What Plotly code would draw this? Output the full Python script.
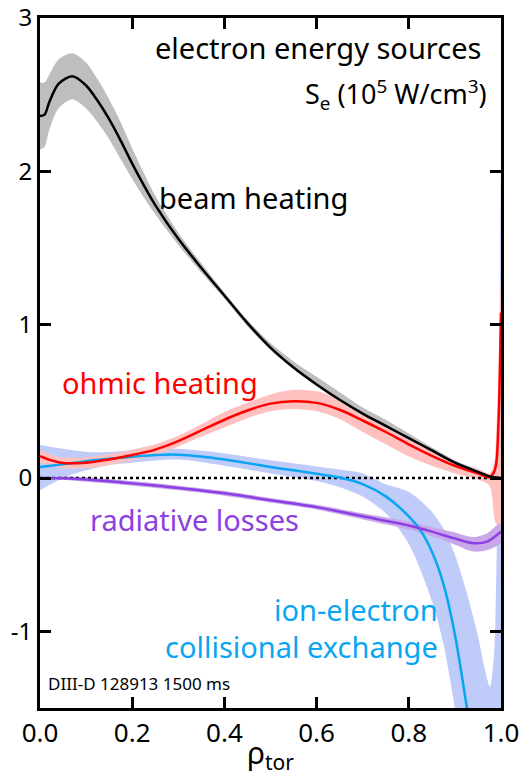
import plotly.graph_objects as go

FONT = "Noto Sans"

# ---------------- data ----------------
# beam heating (black)
beam_x = [0, 0.01, 0.02, 0.04, 0.07, 0.10, 0.125, 0.15, 0.175, 0.20, 0.225, 0.25, 0.30, 0.35, 0.40, 0.45, 0.50, 0.55, 0.60, 0.65, 0.70, 0.75, 0.80, 0.85, 0.90, 0.95, 0.975, 1.0]
beam_y = [2.36, 2.37, 2.45, 2.57, 2.62, 2.56, 2.46, 2.34, 2.20, 2.05, 1.91, 1.78, 1.56, 1.37, 1.19, 1.01, 0.85, 0.72, 0.61, 0.51, 0.42, 0.34, 0.26, 0.18, 0.10, 0.04, 0.01, 0.0]
beam_hi = [2.58, 2.58, 2.63, 2.73, 2.77, 2.71, 2.60, 2.47, 2.32, 2.15, 1.99, 1.84, 1.60, 1.40, 1.21, 1.03, 0.88, 0.76, 0.66, 0.56, 0.46, 0.38, 0.29, 0.20, 0.115, 0.05, 0.015, 0.0]
beam_lo = [2.14, 2.16, 2.27, 2.41, 2.47, 2.41, 2.32, 2.21, 2.08, 1.95, 1.83, 1.72, 1.52, 1.34, 1.17, 0.99, 0.835, 0.71, 0.60, 0.50, 0.41, 0.33, 0.25, 0.17, 0.09, 0.03, 0.0, 0.0]

# ohmic heating (red)
ohm_x = [0, 0.025, 0.05, 0.10, 0.15, 0.20, 0.25, 0.30, 0.35, 0.40, 0.45, 0.50, 0.55, 0.60, 0.65, 0.70, 0.75, 0.80, 0.85, 0.90, 0.95, 0.975, 0.985, 0.99, 0.995, 1.0]
ohm_y = [0.143, 0.115, 0.098, 0.10, 0.12, 0.15, 0.185, 0.24, 0.31, 0.38, 0.44, 0.485, 0.50, 0.49, 0.445, 0.375, 0.30, 0.22, 0.145, 0.08, 0.03, 0.005, 0.04, 0.10, 0.40, 1.08]
ohm_hi = [0.185, 0.15, 0.133, 0.135, 0.155, 0.185, 0.22, 0.275, 0.35, 0.43, 0.49, 0.545, 0.575, 0.565, 0.515, 0.44, 0.36, 0.27, 0.18, 0.11, 0.06, 0.03, 0.10, 0.30, 0.70, 1.30]
ohm_lo = [0.10, 0.08, 0.063, 0.065, 0.085, 0.115, 0.15, 0.205, 0.27, 0.33, 0.39, 0.435, 0.45, 0.435, 0.385, 0.30, 0.22, 0.14, 0.08, 0.03, -0.01, -0.05, -0.25, -0.30, -0.30, -0.30]

# ion-electron collisional exchange (blue)
ie_x = [0, 0.05, 0.10, 0.15, 0.20, 0.25, 0.30, 0.35, 0.40, 0.45, 0.50, 0.55, 0.60, 0.65, 0.70, 0.75, 0.80, 0.825, 0.85, 0.875, 0.90, 0.925, 0.95, 0.975, 1.0]
ie_y = [0.072, 0.09, 0.11, 0.125, 0.138, 0.15, 0.152, 0.14, 0.12, 0.097, 0.072, 0.05, 0.028, 0.003, -0.04, -0.12, -0.25, -0.34, -0.48, -0.69, -1.02, -1.48, -2.0, -2.6, -3.2]
ieb_x = [0, 0.05, 0.10, 0.15, 0.20, 0.30, 0.40, 0.50, 0.60, 0.65, 0.70, 0.75, 0.80, 0.85, 0.875, 0.90, 0.925, 0.95, 0.965, 0.976, 0.985, 0.99, 0.995, 1.0]
ie_hi = [0.215, 0.19, 0.17, 0.17, 0.18, 0.19, 0.16, 0.115, 0.075, 0.055, 0.03, -0.04, -0.09, -0.22, -0.33, -0.50, -0.74, -1.03, -1.25, -1.36, -1.15, -0.60, 0.30, 2.0]
ie_lo = [-0.08, 0.0, 0.05, 0.085, 0.10, 0.12, 0.08, 0.03, -0.02, -0.06, -0.12, -0.23, -0.43, -0.80, -1.08, -1.50, -2.0, -2.6, -3.0, -3.2, -3.4, -3.5, -3.6, -3.7]

# radiative losses (purple)
rad_x = [0, 0.05, 0.10, 0.20, 0.30, 0.40, 0.50, 0.60, 0.70, 0.80, 0.85, 0.90, 0.94, 0.97, 1.0]
rad_y = [0.0, -0.002, -0.01, -0.035, -0.065, -0.10, -0.145, -0.19, -0.25, -0.31, -0.35, -0.395, -0.425, -0.415, -0.35]
rad_hi = [0.0, 0.01, 0.005, -0.02, -0.05, -0.085, -0.13, -0.175, -0.23, -0.285, -0.32, -0.355, -0.385, -0.36, -0.29]
rad_lo = [0.0, -0.012, -0.025, -0.05, -0.08, -0.115, -0.16, -0.205, -0.27, -0.335, -0.38, -0.435, -0.48, -0.47, -0.42]

# axes
x_ticks = [0.0, 0.2, 0.4, 0.6, 0.8, 1.0]
x_ticktext = ["0.0", "0.2", "0.4", "0.6", "0.8", "1.0"]
y_ticks = [-1, 0, 1, 2, 3]
y_ticktext = ["-1", "0", "1", "2", "3"]

fig = go.Figure()


def band(x, lo, hi, color):
    fig.add_trace(go.Scatter(
        x=list(x) + list(x)[::-1], y=list(hi) + list(lo)[::-1],
        fill="toself", fillcolor=color, line=dict(width=0, shape="spline", smoothing=0.8),
        mode="lines", hoverinfo="skip", showlegend=False))


def curve(x, y, color, width=2.5):
    fig.add_trace(go.Scatter(
        x=x, y=y, mode="lines",
        line=dict(color=color, width=width, shape="spline", smoothing=0.8),
        showlegend=False))


band(ieb_x, ie_lo, ie_hi, "#BFCBF8")
band(rad_x, rad_lo, rad_hi, "#C9A8EA")
band(ohm_x, ohm_lo, ohm_hi, "#FFC0C0")
band(beam_x, beam_lo, beam_hi, "#BEBEBE")

# zero line
fig.add_trace(go.Scatter(x=[0, 1], y=[0, 0], mode="lines",
                         line=dict(color="black", width=2.5, dash="dot"),
                         showlegend=False))

curve(ie_x, ie_y, "#08A6F2")
curve(rad_x, rad_y, "#8C3FE3")
curve(ohm_x, ohm_y, "#FF0000")
curve(beam_x, beam_y, "#000000")

ann = [
    dict(x=0.962, y=2.81, text="electron energy sources", xanchor="right", color="black", size=29),
    dict(x=0.975, y=2.50, text="S<sub>e</sub> (10<sup>5</sup> W/cm<sup>3</sup>)", xanchor="right", color="black", size=27),
    dict(x=0.464, y=1.83, text="beam heating", xanchor="center", color="black", size=29),
    dict(x=0.26, y=0.62, text="ohmic heating", xanchor="center", color="#FF0000", size=29),
    dict(x=0.336, y=-0.27, text="radiative losses", xanchor="center", color="#8C3FE3", size=29),
    dict(x=0.868, y=-0.86, text="ion-electron", xanchor="right", color="#08A6F2", size=29),
    dict(x=0.868, y=-1.10, text="collisional exchange", xanchor="right", color="#08A6F2", size=29),
    dict(x=0.012, y=-1.34, text="DIII-D 128913 1500 ms", xanchor="left", color="black", size=17),
]
for a in ann:
    fig.add_annotation(x=a["x"], y=a["y"], text=a["text"], xanchor=a["xanchor"], yanchor="middle",
                       showarrow=False, font=dict(family=FONT, size=a["size"], color=a["color"]))

fig.update_layout(
    width=523, height=776,
    margin=dict(l=40, r=22, t=18, b=68),
    paper_bgcolor="white", plot_bgcolor="white",
    font=dict(family=FONT, size=26, color="black"),
    xaxis=dict(range=[0, 1], tickvals=x_ticks, ticktext=x_ticktext, ticks="inside",
               ticklen=11, tickwidth=3, tickcolor="black", showline=True, linewidth=3,
               linecolor="black", mirror="ticks", showgrid=False, zeroline=False,
               automargin=False,
               tickfont=dict(size=26), title=dict(text="ρ<sub>tor</sub>", font=dict(size=30))),
    yaxis=dict(range=[-1.5, 3], tickvals=y_ticks, ticktext=y_ticktext, ticks="inside",
               ticklen=11, tickwidth=3, tickcolor="black", showline=True, linewidth=3,
               linecolor="black", mirror="ticks", showgrid=False, zeroline=False,
               automargin=False, tickfont=dict(size=24)),
)

fig.write_html("out.html")
